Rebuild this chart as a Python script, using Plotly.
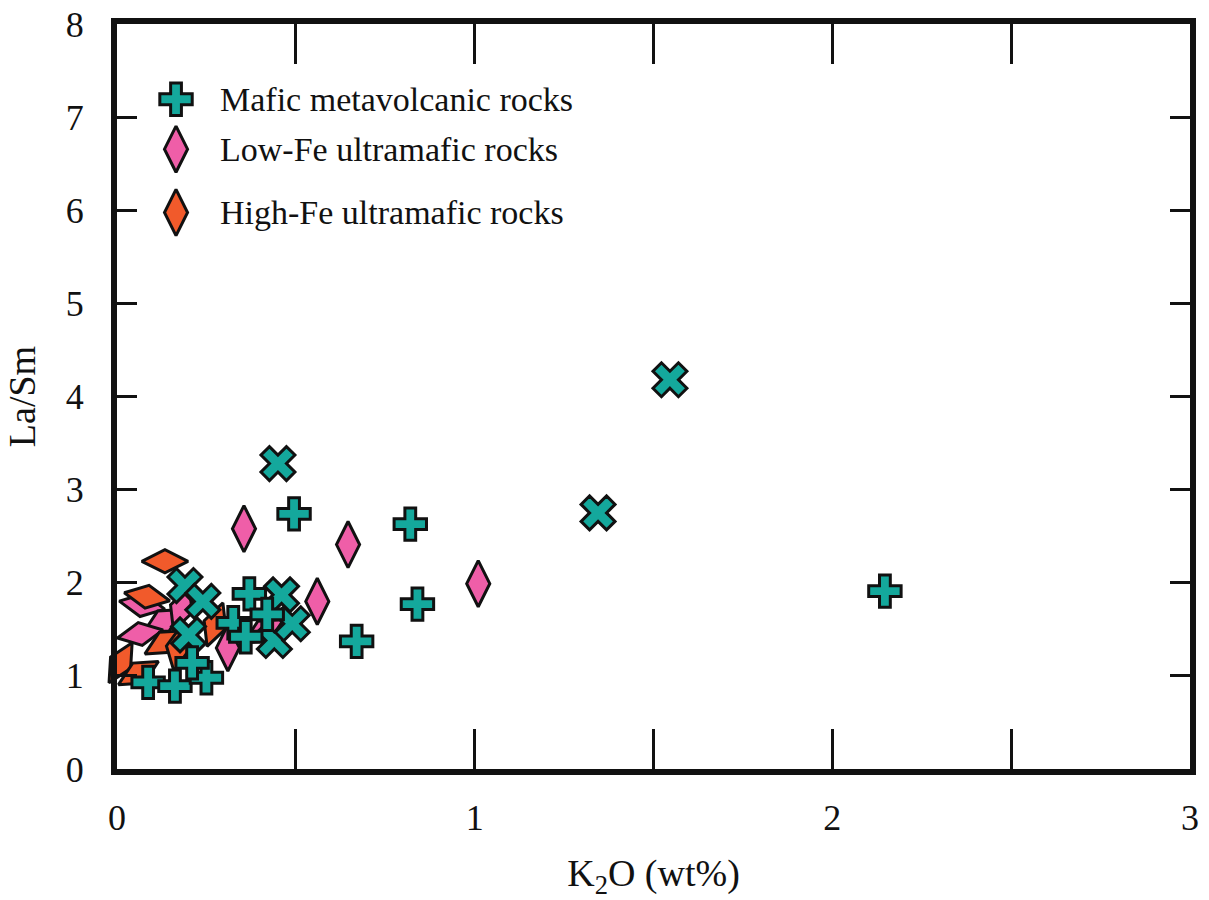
import plotly.graph_objects as go

# ---- data: K2O (wt%) vs La/Sm ----
# Mafic metavolcanic rocks, two marker groups (cross and x)
mafic_cross_k2o = [0.087, 0.162, 0.25, 0.21, 0.325, 0.37, 0.42, 0.36, 0.495, 0.67, 0.82, 0.84, 2.147]
mafic_cross_lasm = [0.93, 0.89, 0.98, 1.14, 1.57, 1.88, 1.66, 1.42, 2.74, 1.37, 2.63, 1.77, 1.91]

mafic_x_k2o = [0.19, 0.24, 0.2, 0.46, 0.44, 0.49, 0.45, 1.546, 1.345]
mafic_x_lasm = [1.97, 1.8, 1.44, 1.87, 1.38, 1.56, 3.28, 4.18, 2.75]

# Low-Fe ultramafic rocks
lowfe_k2o = [0.355, 0.646, 1.01, 0.56, 0.31, 0.07, 0.13, 0.065, 0.18, 0.41]
lowfe_lasm = [2.58, 2.41, 1.99, 1.80, 1.30, 1.76, 1.59, 1.45, 1.72, 1.48]
lowfe_angle = [0, 0, 0, 0, 0, 100, 60, 80, 20, 60]

# High-Fe ultramafic rocks
highfe_k2o = [0.134, 0.084, 0.01, 0.06, 0.274, 0.134, 0.17]
highfe_lasm = [2.23, 1.85, 1.14, 1.03, 1.55, 1.36, 1.30]
highfe_angle = [90, 100, 30, 60, 20, 60, 10]

series_names = ["Mafic metavolcanic rocks", "Low-Fe ultramafic rocks", "High-Fe ultramafic rocks"]

# ---- styles ----
TEAL = "#14A89C"
PINK = "#EF5EA8"
ORANGE = "#F15A2B"
EDGE = "#111111"
FONT = "Liberation Serif"

fig = go.Figure()

fig.add_trace(go.Scatter(
    x=lowfe_k2o, y=lowfe_lasm, mode="markers", name=series_names[1],
    marker=dict(symbol="diamond-tall", size=33, color=PINK, angle=lowfe_angle,
                opacity=1, line=dict(color=EDGE, width=3)),
    cliponaxis=False, showlegend=False))

fig.add_trace(go.Scatter(
    x=highfe_k2o, y=highfe_lasm, mode="markers", name=series_names[2],
    marker=dict(symbol="diamond-tall", size=33, color=ORANGE, angle=highfe_angle,
                opacity=1, line=dict(color=EDGE, width=3)),
    cliponaxis=False, showlegend=False))

fig.add_trace(go.Scatter(
    x=mafic_x_k2o, y=mafic_x_lasm, mode="markers", name=series_names[0],
    marker=dict(symbol="x", size=30, color=TEAL, opacity=1,
                line=dict(color=EDGE, width=3)),
    cliponaxis=False, showlegend=False))

fig.add_trace(go.Scatter(
    x=mafic_cross_k2o, y=mafic_cross_lasm, mode="markers", name=series_names[0],
    marker=dict(symbol="cross", size=27, color=TEAL, opacity=1,
                line=dict(color=EDGE, width=3)),
    cliponaxis=False, showlegend=False))

# ---- legend, drawn on an overlay axis spanning the plot area ----
legend_x = 0.055
legend_text_x = 0.094
legend_y = [0.899, 0.832, 0.747]
legend_symbols = ["cross", "diamond-tall", "diamond-tall"]
legend_sizes = [27, 33, 33]
legend_colors = [TEAL, PINK, ORANGE]

fig.add_trace(go.Scatter(
    x=[legend_x] * 3, y=legend_y, mode="markers", xaxis="x2", yaxis="y2",
    marker=dict(symbol=legend_symbols, size=legend_sizes, color=legend_colors,
                opacity=1, line=dict(color=EDGE, width=3)),
    hoverinfo="skip", showlegend=False))

for name, yy in zip(series_names, legend_y):
    fig.add_annotation(x=legend_text_x, y=yy, xref="paper", yref="paper",
                       text=name, showarrow=False, xanchor="left", yanchor="middle",
                       font=dict(family=FONT, size=34, color="#111111"))

axis_common = dict(
    showline=True, linewidth=6, linecolor=EDGE, mirror="ticks",
    ticks="inside", tickwidth=3, tickcolor=EDGE, automargin=False,
    showgrid=False, zeroline=False, ticklabeloverflow="allow",
    tickfont=dict(family=FONT, size=36, color="#111111"),
)

fig.update_layout(
    width=1209, height=900,
    margin=dict(l=117, r=19, t=24, b=131),
    paper_bgcolor="white", plot_bgcolor="white",
    showlegend=False,
    xaxis=dict(range=[0, 3], tick0=0, dtick=1, ticklen=40,
               minor=dict(dtick=0.5, ticks="inside", ticklen=40, tickwidth=3,
                          tickcolor=EDGE, showgrid=False),
               ticklabelstandoff=12,
               title=dict(text="K<sub>2</sub>O (wt%)", standoff=28,
                          font=dict(family=FONT, size=38, color="#111111")),
               **axis_common),
    yaxis=dict(range=[0, 8], tick0=0, dtick=1, ticklen=20,
               ticklabelstandoff=20,
               title=dict(text="La/Sm", standoff=20,
                          font=dict(family=FONT, size=38, color="#111111")),
               **axis_common),
    xaxis2=dict(overlaying="x", range=[0, 1], visible=False),
    yaxis2=dict(overlaying="y", range=[0, 1], visible=False),
)

fig.write_html("out.html")
